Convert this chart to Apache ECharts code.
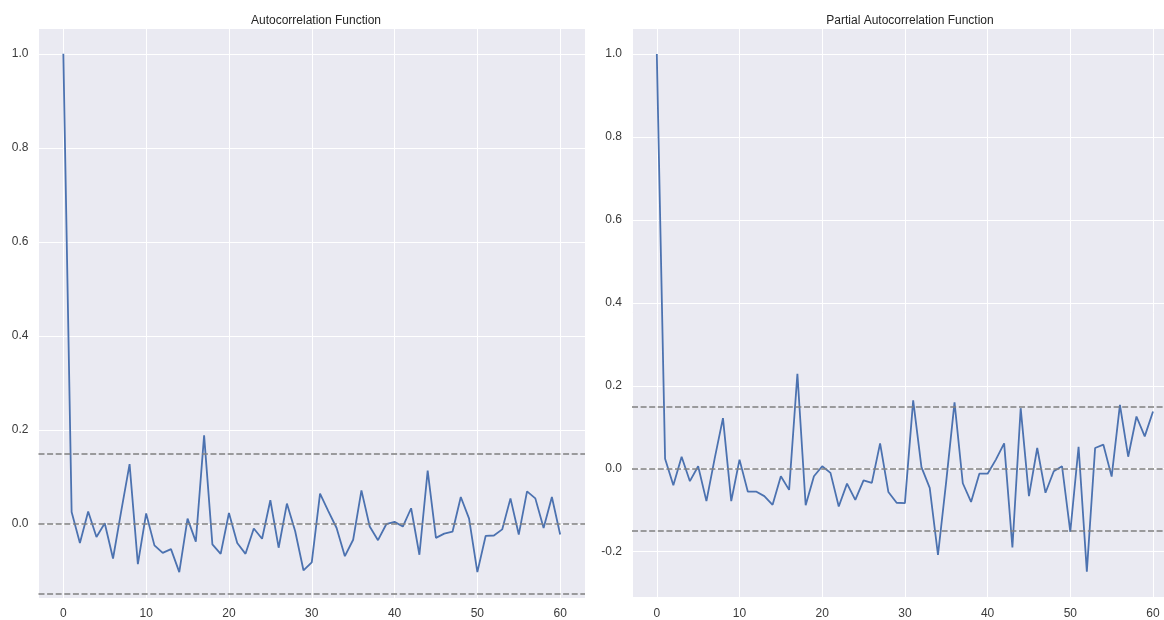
<!DOCTYPE html>
<html>
<head>
<meta charset="utf-8">
<script src="https://cdn.jsdelivr.net/npm/echarts@6/dist/echarts.min.js"></script>
<style>
  html, body { margin: 0; padding: 0; background: #ffffff; }
  #chart { width: 1164px; height: 620px; }
</style>
</head>
<body>
<div id="chart"></div>
<script>
// Autocorrelation values for lags 0..60
const acfValues = [
  1.000, 0.025, -0.041, 0.026, -0.028, 0.001, -0.074, 0.028, 0.127, -0.086,
  0.022, -0.046, -0.062, -0.054, -0.103, 0.011, -0.038, 0.188, -0.044, -0.064,
  0.023, -0.041, -0.064, -0.010, -0.032, 0.050, -0.051, 0.043, -0.016, -0.099,
  -0.082, 0.064, 0.027, -0.009, -0.069, -0.034, 0.071, -0.006, -0.035, -0.001,
  0.004, -0.006, 0.033, -0.066, 0.113, -0.030, -0.021, -0.017, 0.057, 0.011,
  -0.103, -0.026, -0.025, -0.012, 0.054, -0.023, 0.069, 0.054, -0.009, 0.057,
  -0.023
];

// Partial autocorrelation values for lags 0..60
const pacfValues = [
  1.000, 0.024, -0.040, 0.029, -0.030, 0.006, -0.078, 0.025, 0.122, -0.078,
  0.022, -0.055, -0.055, -0.066, -0.087, -0.018, -0.051, 0.229, -0.088, -0.018,
  0.006, -0.010, -0.091, -0.036, -0.075, -0.028, -0.034, 0.061, -0.056, -0.082,
  -0.083, 0.165, 0.004, -0.046, -0.208, -0.030, 0.160, -0.035, -0.080, -0.012,
  -0.012, 0.022, 0.061, -0.190, 0.146, -0.066, 0.050, -0.058, -0.006, 0.006,
  -0.152, 0.053, -0.248, 0.050, 0.058, -0.019, 0.154, 0.029, 0.126, 0.078,
  0.138
];

// Reference levels: lower 95% bound, zero, upper 95% bound
const bandLevels = [-0.152, 0, 0.152];

const panelTitles = ['Autocorrelation Function', 'Partial Autocorrelation Function'];

const FONT = '"Liberation Sans", Arial, sans-serif';
const LINE_BLUE = '#4c72b0';
const PANEL_BG = '#eaeaf2';

function toPairs(values) {
  return values.map((v, i) => [i, v]);
}

function xAxisFor(gridIndex, max) {
  return {
    type: 'value', gridIndex: gridIndex,
    min: -3, max: max, splitNumber: 6,
    axisLine: { show: false }, axisTick: { show: false },
    axisLabel: {
      color: '#3a3a3a', fontFamily: FONT, fontSize: 12, margin: 10,
      showMinLabel: false, showMaxLabel: false
    },
    splitLine: { show: true, lineStyle: { color: '#ffffff', width: 1 } }
  };
}

function yAxisFor(gridIndex, min, max) {
  return {
    type: 'value', gridIndex: gridIndex,
    min: min, max: max, splitNumber: 6,
    axisLine: { show: false }, axisTick: { show: false },
    axisLabel: {
      color: '#3a3a3a', fontFamily: FONT, fontSize: 12, margin: 10,
      showMinLabel: false, showMaxLabel: false,
      formatter: v => v.toFixed(1)
    },
    splitLine: { show: true, lineStyle: { color: '#ffffff', width: 1 } }
  };
}

function seriesFor(values, index) {
  return {
    type: 'line', xAxisIndex: index, yAxisIndex: index,
    data: toPairs(values),
    symbol: 'none', smooth: false,
    lineStyle: { color: LINE_BLUE, width: 1.8 },
    itemStyle: { color: LINE_BLUE },
    markLine: {
      silent: true, symbol: ['none', 'none'],
      label: { show: false },
      lineStyle: { color: '#808080', width: 1.6, type: [6, 2.6] },
      data: bandLevels.map(y => ({ yAxis: y }))
    }
  };
}

const chart = echarts.init(document.getElementById('chart'), null, { renderer: 'canvas' });

chart.setOption({
  backgroundColor: '#ffffff',
  animation: false,
  title: [
    { text: panelTitles[0], left: 311, top: 10, textAlign: 'center',
      textStyle: { fontFamily: FONT, fontSize: 12, fontWeight: 'normal', color: '#262626' } },
    { text: panelTitles[1], left: 905, top: 10, textAlign: 'center',
      textStyle: { fontFamily: FONT, fontSize: 12, fontWeight: 'normal', color: '#262626' } }
  ],
  grid: [
    { left: 38.5, top: 28, width: 546.5, height: 571, backgroundColor: PANEL_BG, show: true, borderWidth: 0 },
    // right panel runs to the page edge, so its x range stops a little past lag 61
    { left: 632, top: 28.3, width: 532, height: 569, backgroundColor: PANEL_BG, show: true, borderWidth: 0 }
  ],
  xAxis: [xAxisFor(0, 63), xAxisFor(1, 61.33)],
  yAxis: [yAxisFor(0, -0.158, 1.055), yAxisFor(1, -0.310, 1.062)],
  series: [seriesFor(acfValues, 0), seriesFor(pacfValues, 1)]
});
</script>
</body>
</html>
